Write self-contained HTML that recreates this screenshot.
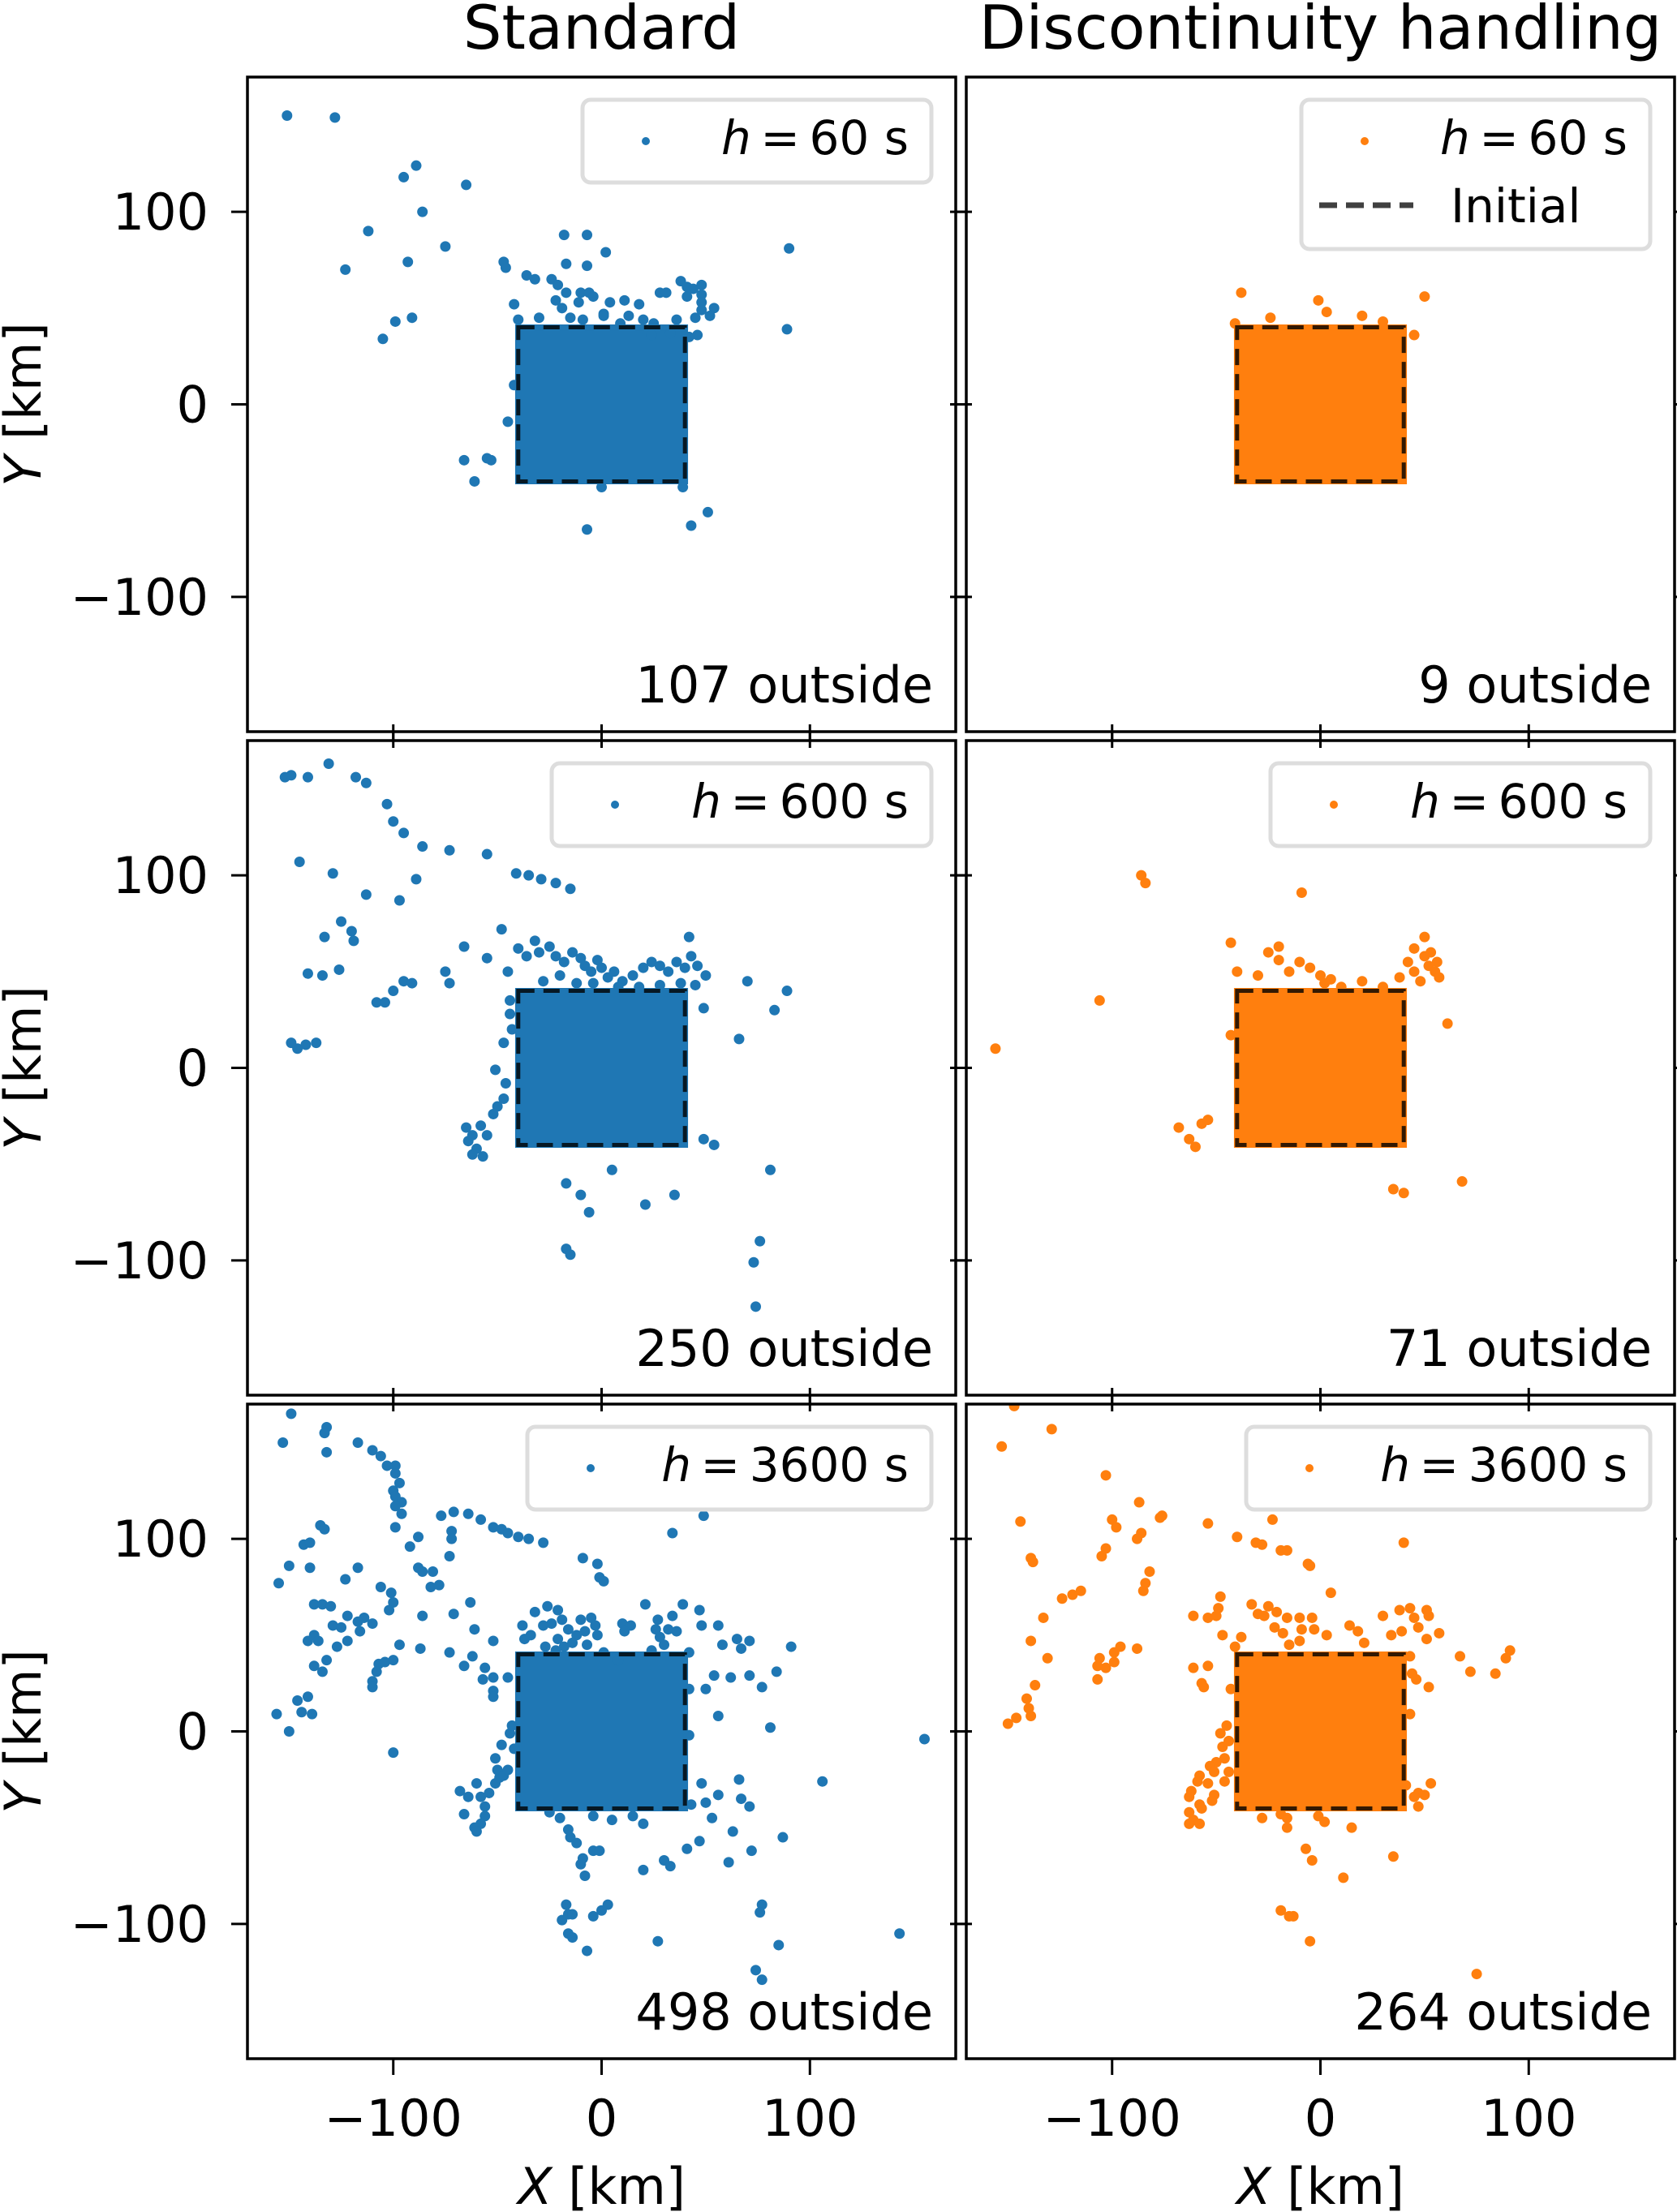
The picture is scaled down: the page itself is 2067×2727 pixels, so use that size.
<!DOCTYPE html>
<html><head><meta charset="utf-8"><style>
html,body{margin:0;padding:0;background:#fff;}
svg{display:block;font-family:"DejaVu Sans","Liberation Sans",sans-serif;}
</style></head><body>
<svg id="fig" width="2067" height="2727" viewBox="0 0 2067 2727" xmlns="http://www.w3.org/2000/svg">
<rect x="0" y="0" width="2067" height="2727" fill="#fff"/>
<g id="root"></g>
</svg>
<script>
// ---- data (km) ----
const tickValues = [-100, 0, 100];
const tickLabels = ["\u2212100", "0", "100"];
const rowSteps = ["60", "600", "3600"];
const outsideStd = [107, 250, 498];
const outsideDisc = [9, 71, 264];
const initialBox = [-40, 40];

const std60 = [[-151,150],[-128,149],[-95,118],[-89,124],[-86,100],[-65,114],[-112,90],[-93,74],[-75,82],[-123,70],[-105,34],[-99,43],[-91,45],[-47,74],[-18,88],[-7,72],[90,81],[89,39],[-66,-29],[-61,-40],[-55,-28],[-53,-29],[-7,-65],[43,-63],[51,-56],[39,-43],[0,-43],
[-36,67],[-32,65],[-24,65],[-21,62],[-17,73],[-7,88],[2,79],[-46,71],[-42,52],[-22,54],[-17,58],[-10,58],[-6,58],[-4,56],[-11,53],[-19,50],[-9,44],[1,47],[4,53],[11,54],[18,52],[28,58],[31,58],[38,64],[41,61],[44,60],[48,62],[48,57],[41,56],[48,53],[54,50],[52,46],[48,49],[45,45],[46,36],[42,35],[33,37],[24,36],[25,42],[1,46],[13,46],[9,42],[-42,10],[-45,-9],[-40,44],[-30,45],[-15,45],[20,44],[36,44]];
const disc60 = [[-38,58],[-1,54],[3,48],[20,46],[50,56],[45,36],[-24,45],[-41,42],[30,43]];

const std600 = [[-152,151],[-149,152],[-141,151],[-131,158],[-118,151],[-113,148],[-103,137],[-100,128],[-95,122],[-86,115],[-73,113],[-55,111],[-89,98],[-97,87],[-113,90],[-145,107],[-129,101],[-41,101],[-35,100],[-29,98],[-22,96],[-15,93],[-125,76],[-120,71],[-119,66],[-133,68],[-141,49],[-134,48],[-126,51],[-95,45],[-91,44],[-108,34],[-104,34],[-100,40],[-142,12],[-146,10],[-149,13],[-137,13],[-75,50],[-73,44],[-66,63],[-48,72],[-32,66],[-55,57],[-45,50],
[42,68],[70,45],[89,40],[83,30],[45,43],[49,31],[66,15],[-65,-31],[-60,-42],[-57,-46],[-64,-38],[-52,-24],[-47,-16],[-51,-1],[-47,13],[-17,-60],[-10,-66],[-6,-75],[5,-53],[21,-71],[35,-66],[-17,-94],[-15,-97],[81,-53],[76,-90],[73,-101],[74,-124],[49,-37],[54,-40],
[-40,62],[-36,58],[-30,60],[-25,63],[-22,58],[-18,55],[-14,60],[-10,57],[-8,53],[-5,50],[-2,56],[0,52],[3,47],[6,50],[10,45],[15,48],[20,52],[24,55],[28,53],[32,50],[36,55],[40,52],[43,58],[46,53],[50,48],[-28,45],[-20,48],[-12,44],[-4,44],[8,42],[18,42],[28,43],[38,44],[-44,35],[-43,20],[-44,28],[-62,-35],[-58,-30],[-55,-35],[-50,-20],[-46,-8],[-62,-45]];
const disc600 = [[-106,35],[-86,100],[-84,96],[-156,10],[-9,91],[-43,65],[-20,63],[50,68],[61,23],[68,-59],[35,-63],[40,-65],[-68,-31],[-63,-37],[-60,-41],[-57,-29],[-54,-27],[-43,17],
[-40,50],[-30,48],[-25,60],[-20,56],[-15,50],[-10,55],[-5,52],[0,48],[2,44],[5,46],[10,42],[20,45],[30,42],[38,47],[42,55],[45,62],[50,58],[52,53],[55,50],[48,45],[57,47],[53,60],[56,55],[45,50]];

const std3600 = [[-149,165],[-153,150],[-132,158],[-133,155],[-132,145],[-117,150],[-110,146],[-106,143],[-103,138],[-99,138],[-99,134],[-97,129],[-100,125],[-99,122],[-96,119],[-99,117],[-96,113],[-99,106],[-135,107],[-133,105],[-143,97],[-140,98],[-150,86],[-140,85],[-155,77],[-117,85],[-123,79],[-106,75],[-101,72],[-102,63],[-100,67],[-138,66],[-134,66],[-130,65],[-122,60],[-114,59],[-117,57],[-129,55],[-125,54],[-138,50],[-141,47],[-136,47],[-122,47],[-127,44],[-116,52],[-110,56],[-132,37],[-138,34],[-134,31],[-107,35],[-104,36],[-100,37],[-108,31],[-110,26],[-110,23],[-97,45],[-87,43],[-146,16],[-141,18],[-144,10],[-139,9],[-156,9],[-150,0],[-100,-11],[-92,96],[-88,101],[-88,85],[-86,83],[-81,83],[-82,75],[-78,76],[-86,60],[-77,112],[-71,114],[-64,113],[-58,110],[-52,106],[-48,105],[-45,103],[-40,101],[-35,100],[-28,98],[-72,104],[-72,100],[-73,91],[-9,90],[-2,87],[-1,80],[1,78],[34,103],[49,112],[-63,67],[-71,61],[-61,53],[-52,47],[-73,41],[-62,39],[-66,34],[-56,33],[-57,27],[-52,28],[-45,28],[-52,21],[-52,18],[21,66],[39,66],[47,63],[56,55],[48,55],[58,45],[65,48],[71,47],[67,43],[91,44],[42,41],[54,29],[62,28],[71,29],[84,31],[77,23],[50,22],[42,22],[56,8],[81,2],[155,-4],[106,-26],[42,-2],[48,-27],[56,-33],[66,-25],[67,-35],[71,-39],[50,-37],[53,-45],[43,-38],[63,-52],[87,-55],[47,-57],[41,-61],[72,-62],[61,-68],[30,-67],[33,-70],[20,-72],[-16,-51],[-15,-55],[-12,-58],[-4,-62],[-9,-66],[-10,-69],[-8,-75],[-1,-62],[-17,-90],[-19,-98],[-16,-95],[-14,-95],[-16,-105],[-14,-107],[-4,-96],[0,-93],[3,-90],[-7,-114],[27,-109],[77,-90],[76,-94],[85,-111],[143,-105],[74,-124],[77,-129],
[-68,-31],[-64,-34],[-60,-27],[-58,-34],[-56,-39],[-56,-44],[-58,-48],[-61,-50],[-60,-52],[-66,-43],[-54,-32],[-51,-27],[-49,-24],[-51,-14],[-50,-20],[-47,-23],[-45,-20],[-48,-7],[-44,-1],[-43,3],[-42,-9],
[-32,62],[-26,65],[-21,63],[-19,58],[-16,53],[-21,48],[-18,44],[-10,58],[-5,59],[-3,55],[-2,50],[-7,45],[1,41],[-38,55],[-34,50],[-37,48],[-27,44],[10,56],[14,55],[11,52],[27,58],[26,53],[32,53],[36,52],[34,60],[28,49],[24,42],[8,37],[-24,56],[-12,50],[-8,52],[-28,55],[-14,46],[-22,42],[30,45],[-4,-44],[5,-46],[15,-44],[-20,-45],[-25,-42],[20,-48]];
const disc3600 = [[-147,169],[-129,157],[-153,148],[-103,133],[-87,119],[-76,112],[-77,111],[-54,108],[-23,110],[-144,109],[-100,110],[-98,106],[-86,103],[-88,100],[-40,101],[-31,98],[-28,97],[-19,94],[-16,94],[-6,87],[-5,86],[40,98],[-103,95],[-105,91],[-139,90],[-138,88],[-82,83],[-84,77],[-85,73],[-115,73],[-119,71],[-124,69],[5,72],[-133,59],[-139,47],[-131,38],[-137,24],[-141,17],[-140,12],[-139,8],[-146,7],[-150,4],[-106,38],[-107,34],[-103,33],[-99,36],[-99,41],[-96,44],[-107,27],[-88,43],[-48,70],[-49,64],[-61,60],[-54,59],[-50,60],[-33,66],[-25,65],[-21,62],[-30,61],[-27,60],[-16,59],[-10,59],[-4,59],[-22,54],[-18,51],[-9,53],[-3,53],[3,50],[-15,45],[-10,47],[-47,50],[-38,49],[-41,44],[14,55],[18,52],[21,46],[30,60],[38,63],[43,64],[45,59],[47,54],[52,60],[51,63],[57,51],[51,48],[34,50],[39,52],[67,39],[72,31],[84,30],[89,38],[91,42],[44,30],[46,27],[52,23],[43,39],[43,9],[-61,33],[-54,34],[-57,25],[-56,23],[-43,22],[-45,3],[-48,-1],[-47,-8],[-44,-5],[-46,-14],[-50,-16],[-53,-18],[-51,-21],[-58,-23],[-54,-27],[-59,-26],[-44,-21],[-46,-26],[-62,-31],[-63,-34],[-51,-33],[-52,-36],[-58,-38],[-57,-40],[-63,-42],[-61,-46],[-58,-48],[-63,-48],[53,-27],[47,-32],[50,-33],[45,-34],[47,-39],[41,-28],[-28,-45],[-16,-45],[-16,-50],[-19,-43],[-1,-44],[2,-47],[15,-50],[-7,-61],[-4,-67],[11,-76],[35,-65],[-19,-93],[-15,-96],[-13,-96],[-5,-109],[75,-126]];

const panelData = [[std60, disc60], [std600, disc600], [std3600, disc3600]];

// ---- layout ----
const colLeft = [305, 1191];
const colWidth = 873;
const rowTop = [95, 913, 1731];
const rowHeight = 807;
const LIM = 170;
const colors = ["#1f77b4", "#ff7f0e"];
const NS = "http://www.w3.org/2000/svg";
const root = document.getElementById("root");

function sx(c, v) { return colLeft[c] + (v + LIM) / (2 * LIM) * colWidth; }
function sy(r, v) { return rowTop[r] + (LIM - v) / (2 * LIM) * rowHeight; }
function mk(tag, attrs, parent) {
  const e = document.createElementNS(NS, tag);
  for (const k in attrs) e.setAttribute(k, attrs[k]);
  (parent || root).appendChild(e);
  return e;
}

const defs = mk("defs", {});
for (let r = 0; r < 3; r++) for (let c = 0; c < 2; c++) {
  const cp = mk("clipPath", {id: "clip" + r + c}, defs);
  mk("rect", {x: colLeft[c], y: rowTop[r], width: colWidth, height: rowHeight}, cp);
}

for (let r = 0; r < 3; r++) {
  for (let c = 0; c < 2; c++) {
    const g = mk("g", {"clip-path": "url(#clip" + r + c + ")"});
    
    
    const fill = mk("rect", {x: sx(c, initialBox[0] - 1.5), y: sy(r, initialBox[1] + 1.5),
      width: sx(c, initialBox[1] + 1.5) - sx(c, initialBox[0] - 1.5),
      height: sy(r, initialBox[0] - 1.5) - sy(r, initialBox[1] + 1.5), fill: colors[c]}, g);
    
    
    const pts = panelData[r][c];
    for (let i = 0; i < pts.length; i++) {
      const p = mk("circle", {cx: sx(c, pts[i][0]), cy: sy(r, pts[i][1]), r: 6.5, fill: colors[c]}, g);
      
      
    }
    const box = mk("rect", {x: sx(c, initialBox[0]), y: sy(r, initialBox[1]),
      width: sx(c, initialBox[1]) - sx(c, initialBox[0]),
      height: sy(r, initialBox[0]) - sy(r, initialBox[1]),
      fill: "none", stroke: "#000", "stroke-opacity": "0.8", "stroke-width": 5, "stroke-dasharray": "20 11"}, g);
    
    

    const fr = mk("rect", {x: colLeft[c], y: rowTop[r], width: colWidth, height: rowHeight, fill: "none", stroke: "#000", "stroke-width": 3.5});
    
    
    for (let t = 0; t < tickValues.length; t++) {
      const X = sx(c, tickValues[t]), Y = sy(r, tickValues[t]);
      const L = colLeft[c], R = colLeft[c] + colWidth, T = rowTop[r], B = rowTop[r] + rowHeight;
      const segs = [[X, B, X, B + 20], [L, Y, L - 20, Y], [R, Y, R + 20, Y]];
      if (r > 0) segs.push([X, T, X, T - 20]);
      for (const s of segs) {
        const tk = mk("line", {x1: s[0], y1: s[1], x2: s[2], y2: s[3], stroke: "#000", "stroke-width": 3});
        
        
      }
      if (c === 0) {
        const yl = mk("text", {x: 257, y: Y + 22, "text-anchor": "end", "font-size": 62});
        yl.textContent = tickLabels[t];
        
        
      }
      if (r === 2) {
        const xl = mk("text", {x: X, y: 2633, "text-anchor": "middle", "font-size": 62});
        xl.textContent = tickLabels[t];
        
        
      }
    }
    const an = mk("text", {x: colLeft[c] + colWidth - 28, y: rowTop[r] + 771, "text-anchor": "end", "font-size": 62});
    an.textContent = (c === 0 ? outsideStd[r] : outsideDisc[r]) + " outside";
    
    

    const legW = [430, 468, 498][r];
    const legH = (r === 0 && c === 1) ? 184 : 102;
    const lx = colLeft[c] + colWidth - 30 - legW, ly = rowTop[r] + 28;
    const lg = mk("g", {});
    
    
    mk("rect", {x: lx, y: ly, width: legW, height: legH, rx: 10, fill: "#fff", stroke: "#dddddd", "stroke-width": 5}, lg);
    const mx = lx + 78;
    const mkr = mk("circle", {cx: mx, cy: ly + 51, r: 5, fill: colors[c]}, lg);
    
    
    const lt = mk("text", {x: lx + legW - 28, y: ly + 67, "text-anchor": "end", "font-size": 58}, lg);
    
    
    const it = mk("tspan", {"font-style": "italic"}, lt); it.textContent = "h";
    const rest = mk("tspan", {}, lt); rest.textContent = "\u2009=\u2009" + rowSteps[r] + " s";
    if (r === 0 && c === 1) {
      const dl = mk("line", {x1: lx + 22, y1: ly + 130, x2: lx + 138, y2: ly + 130, stroke: "#000", "stroke-opacity": "0.75", "stroke-width": 7, "stroke-dasharray": "22 11"}, lg);
      
      
      const tx = mk("text", {x: lx + 184, y: ly + 151, "font-size": 58}, lg);
      tx.textContent = "Initial";
      
      
    }
  }
  const yc = rowTop[r] + rowHeight / 2;
  const ylab = mk("text", {x: 0, y: 0, "text-anchor": "middle", "font-size": 62, transform: "translate(50," + yc + ") rotate(-90)"});
  
  
  const yi = mk("tspan", {"font-style": "italic"}, ylab); yi.textContent = "Y";
  const yr = mk("tspan", {}, ylab); yr.textContent = " [km]";
}
for (let c = 0; c < 2; c++) {
  const xlab = mk("text", {x: sx(c, 0), y: 2717, "text-anchor": "middle", "font-size": 62});
  
  
  const xi = mk("tspan", {"font-style": "italic"}, xlab); xi.textContent = "X";
  const xr = mk("tspan", {}, xlab); xr.textContent = " [km]";
  const tt = mk("text", {x: sx(c, 0), y: 60, "text-anchor": "middle", "font-size": 75});
  tt.textContent = c === 0 ? "Standard" : "Discontinuity handling";
  
  
}
</script>
</body></html>
